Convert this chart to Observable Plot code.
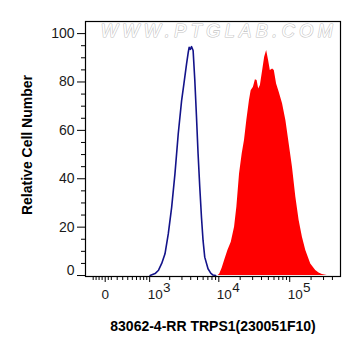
<!DOCTYPE html>
<html>
<head>
<meta charset="utf-8">
<script src="https://cdn.jsdelivr.net/npm/d3@7"></script>
<script src="https://cdn.jsdelivr.net/npm/@observablehq/plot@0.6"></script>
<style>
  html, body { margin: 0; padding: 0; background: #ffffff; }
  #chart { width: 361px; height: 356px; }
</style>
</head>
<body>
<div id="chart"></div>
<script>
// ---- data ----
// Control (isotype) histogram: fluorescence intensity vs relative cell number
const controlIntensity = [1016, 1213, 1369, 1526, 1707, 1906, 2134, 2381, 2654, 2967, 3200, 3492, 3703, 3801, 3949, 4107, 4328, 4576, 4835, 5090, 5380, 5684, 5984, 6323, 7038, 7680, 8272, 9025];
const controlCount     = [0, 0.8, 2.2, 5, 9, 17.2, 28.2, 42, 58.5, 72.3, 79.2, 87.5, 92.5, 94.3, 93.5, 94.6, 93, 80.6, 65.4, 50.3, 36.5, 24.1, 14.5, 7.6, 2.8, 1, 0.2, 0];

// Stained sample histogram
const sampleIntensity = [9790, 10280, 11140, 12070, 13430, 14990, 16670, 17960, 19600, 21380, 23020, 24800, 27050, 28580, 30780, 32830, 34670, 36510, 38580, 41540, 44310, 47260, 50410, 53260, 57370, 60600, 65260, 71210, 79190, 88370, 98310, 109300, 122000, 135700, 151000, 168500, 197900, 232600, 258900, 287900, 338100];
const sampleCount     = [0, 0.5, 3, 6.2, 10.3, 13.8, 20, 28.2, 42, 50.3, 55.8, 64, 72.3, 76.4, 77.8, 80.9, 80.6, 77.1, 78.5, 84.7, 90.2, 93, 88.8, 84.7, 85.4, 84.7, 79.2, 75.7, 71, 64, 54.4, 44.8, 32.4, 22.7, 15.8, 10.3, 4.8, 2.1, 1, 0.4, 0];

// axis ticks and labels
const xLimits = [-342, 520000];
const yLimits = [-0.4, 105];
const xMajorTicks = [0, 1000, 10000, 100000];
const xMinorTicks = [-200, -150, -100, -50, 50, 100, 200, 300, 400, 500, 600, 700, 800, 900,
  2000, 3000, 4000, 5000, 6000, 7000, 8000, 9000,
  20000, 30000, 40000, 50000, 60000, 70000, 80000, 90000,
  200000, 300000, 400000];
const xDecadeTicks = [1000, 10000, 100000];
const xDecadeExponents = ["3", "4", "5"];
const yMajorTicks = [0, 20, 40, 60, 80, 100];
const yMinorTicks = [5, 10, 15, 25, 30, 35, 45, 50, 55, 65, 70, 75, 85, 90, 95];
const xTitle = "83062-4-RR TRPS1(230051F10)";
const yTitle = "Relative Cell Number";
const watermark = "WWW.PTGLAB.COM";

// ---- build tables ----
const control = controlIntensity.map((v, i) => ({v, n: controlCount[i]}));
const sample = sampleIntensity.map((v, i) => ({v, n: sampleCount[i]}));

// biexponential-like (arcsinh) display transform for the fluorescence axis
const W = 500;
const T = (v) => Math.asinh(v / W);

const font = "'Liberation Sans', Arial, sans-serif";
const labelColor = "#1a1a1a";

const chart = Plot.plot({
  width: 361,
  height: 356,
  marginLeft: 85,
  marginRight: 21,
  marginTop: 21,
  marginBottom: 80,
  style: {fontFamily: font, background: "#ffffff", overflow: "visible"},
  x: {transform: T, domain: xLimits.map(T), axis: null, label: null},
  y: {domain: yLimits, axis: null, label: null},
  marks: [
    Plot.areaY(sample, {x: "v", y: "n", fill: "#ff0000", curve: "linear"}),
    Plot.lineY(control, {x: "v", y: "n", stroke: "#13138a", strokeWidth: 1.6, curve: "linear"}),
    // watermark
    Plot.text([watermark], {frameAnchor: "top", lineAnchor: "top", dy: 3, dx: 6, fontSize: 18,
      fontStyle: "italic", fill: "#ffffff", stroke: "#c4c4c4", strokeWidth: 1.2}),
    // y axis ticks
    Plot.axisY(yMajorTicks, {anchor: "left", tickSize: 8, tickFormat: () => "", label: null, stroke: "#000"}),
    Plot.axisY(yMinorTicks, {anchor: "left", tickSize: 4, tickFormat: () => "", label: null, stroke: "#000"}),
    Plot.text(yMajorTicks.filter(d => d !== 0), {y: d => d, text: d => String(d), frameAnchor: "left",
      textAnchor: "end", dx: -11, fontSize: 14, fill: labelColor}),
    Plot.text(yMajorTicks.filter(d => d === 0), {y: d => d, text: d => String(d), frameAnchor: "left",
      textAnchor: "end", dx: -11, dy: -5, fontSize: 14, fill: labelColor}),
    // x axis ticks
    Plot.axisX(xMajorTicks, {anchor: "bottom", tickSize: 6, tickFormat: () => "", label: null, stroke: "#000"}),
    Plot.axisX(xMinorTicks, {anchor: "bottom", tickSize: 4, tickFormat: () => "", label: null, stroke: "#000"}),
    Plot.text([0], {x: d => d, text: () => "0", frameAnchor: "bottom", dy: 22, fontSize: 13.5, fill: labelColor}),
    Plot.text(xDecadeTicks, {x: d => d, text: () => "10", frameAnchor: "bottom", textAnchor: "start",
      dx: -2, dy: 22, fontSize: 13.5, fill: labelColor}),
    Plot.text(xDecadeTicks, {x: d => d, text: (d, i) => xDecadeExponents[i], frameAnchor: "bottom", textAnchor: "start",
      dx: 13.3, dy: 15.5, fontSize: 13.5, fill: labelColor}),
    // axis titles
    Plot.text([xTitle], {frameAnchor: "bottom", textAnchor: "middle", dy: 54, fontSize: 14, fontWeight: "bold", fill: "#000"}),
    Plot.text([yTitle], {frameAnchor: "left", textAnchor: "middle", rotate: -90, dx: -58, dy: -4, fontSize: 14, fontWeight: "bold", fill: "#000"}),
    Plot.frame({stroke: "#000", strokeWidth: 1.2})
  ]
});

d3.select(chart).selectAll("text")
  .filter(function () { return this.textContent === watermark; })
  .attr("letter-spacing", 4.5);

document.getElementById("chart").appendChild(chart);
</script>
</body>
</html>
